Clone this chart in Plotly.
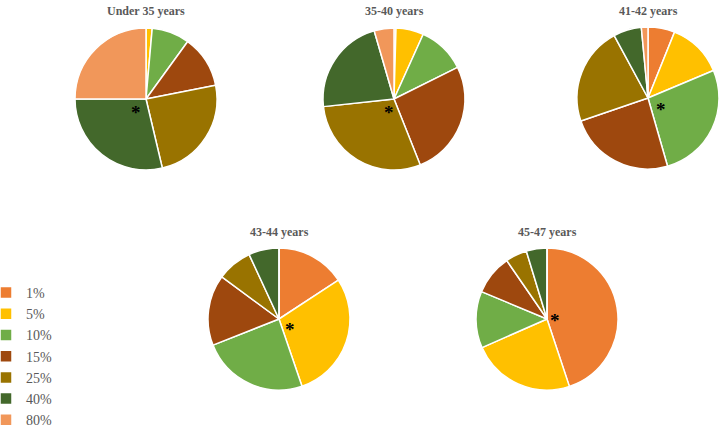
import plotly.graph_objects as go

labels = ["1%", "5%", "10%", "15%", "25%", "40%", "80%"]
colors = ["#ED7D31", "#FFC000", "#70AD47", "#9E480E", "#997300", "#43682B", "#F1975A"]

titles = ["Under 35 years", "35-40 years", "41-42 years", "43-44 years", "45-47 years"]
under35 = [0.0, 1.4, 8.6, 11.9, 24.4, 28.7, 25.0]
age35_40 = [0.45, 6.3, 10.9, 26.3, 29.3, 22.2, 4.5]
age41_42 = [6.1, 12.6, 26.9, 24.2, 22.4, 6.4, 1.5]
age43_44 = [15.75, 29.0, 24.25, 16.1, 8.0, 6.9, 0.0]
age45_47 = [44.9, 23.5, 12.9, 9.1, 4.9, 4.7, 0.0]
series = [under35, age35_40, age41_42, age43_44, age45_47]

W, H = 726, 428
# pie centers (px) and domain half-size
centers = [(146, 99), (394, 99), (648, 98), (279, 319), (547, 319)]
R = 71
title_y = [11, 11, 11, 232, 232]
# visual centres of the asterisks (px); the glyph sits high in its line box
star_pos = [(136, 108), (389, 107), (661, 104), (290, 324), (555, 315)]
STAR_DY = 5

fig = go.Figure()
annotations = []
for i, (vals, (cx, cy)) in enumerate(zip(series, centers)):
    fig.add_trace(go.Pie(
        labels=labels, values=vals, sort=False, direction="clockwise",
        rotation=0, textinfo="none", hoverinfo="label+value",
        marker=dict(colors=colors, line=dict(color="white", width=1.5)),
        domain=dict(x=[(cx - R) / W, (cx + R) / W],
                    y=[1 - (cy + R) / H, 1 - (cy - R) / H]),
        showlegend=(i == 0),
    ))
    annotations.append(dict(
        x=cx / W, y=1 - title_y[i] / H, xref="paper", yref="paper",
        text="<b>" + titles[i] + "</b>", showarrow=False,
        font=dict(family="Liberation Serif", size=12, color="#595959"),
        xanchor="center", yanchor="middle"))
    sx, sy = star_pos[i]
    annotations.append(dict(
        x=sx / W, y=1 - (sy + STAR_DY) / H, xref="paper", yref="paper",
        text="<b>*</b>", showarrow=False,
        font=dict(family="Liberation Serif", size=19, color="black"),
        xanchor="center", yanchor="middle"))

fig.update_layout(
    width=W, height=H,
    margin=dict(l=0, r=0, t=0, b=0, autoexpand=False),
    paper_bgcolor="white", plot_bgcolor="white",
    annotations=annotations,
    legend=dict(x=-14 / W, y=1 - 277 / H, xanchor="left", yanchor="top",
                font=dict(family="Liberation Serif", size=14, color="#595959"),
                traceorder="normal", itemwidth=30, bgcolor="rgba(0,0,0,0)"),
)

fig.write_html("out.html", config={"displayModeBar": False},
               post_script="document.body.style.margin='0';")
